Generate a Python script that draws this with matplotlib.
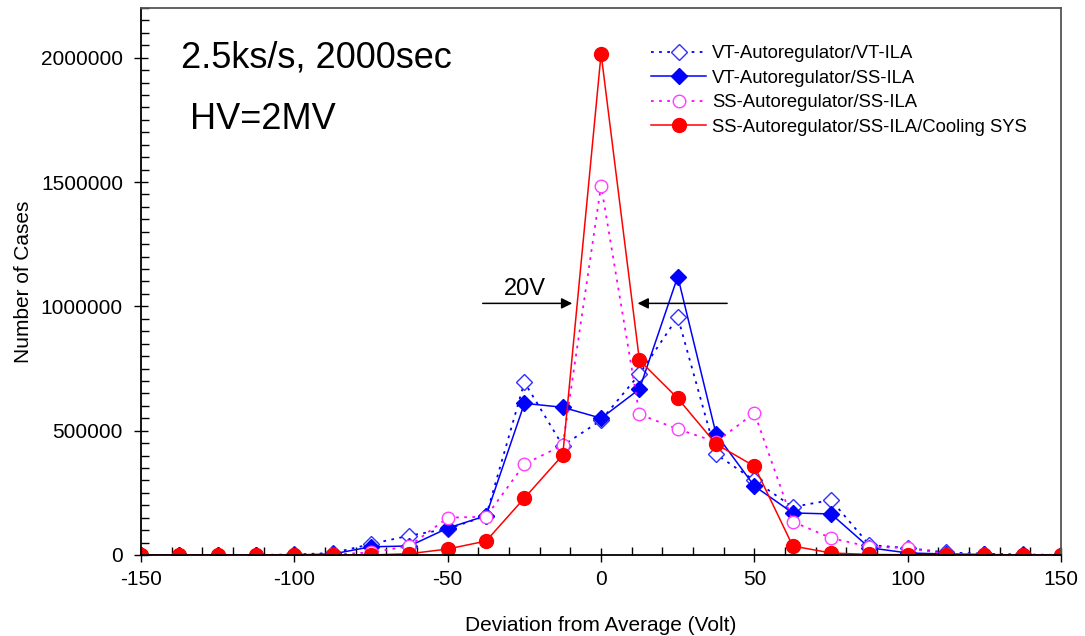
import numpy as np
import matplotlib.pyplot as plt
from matplotlib.ticker import MultipleLocator, FuncFormatter

plt.rcParams['font.family'] = ['Liberation Sans', 'DejaVu Sans']
plt.rcParams['axes.unicode_minus'] = False

# Deviation from average, 12.5 V bins
x = np.arange(-150, 150.1, 12.5)

# Number of cases
vt_vt = [0, 0, 0, 0, 2000, 8000, 44000, 78000, 105000, 157000, 695000, 440000, 542000,
         727000, 957000, 405000, 300000, 193000, 221000, 40000, 28000, 10000, 5000, 2000, 0]
vt_ss = [0, 0, 0, 0, 0, 4000, 33000, 36000, 108000, 158000, 610000, 594000, 550000,
         667000, 1120000, 486000, 277000, 169000, 165000, 29000, 8000, 4000, 2000, 0, 0]
ss_ss = [0, 0, 0, 0, 0, 2000, 10000, 36000, 150000, 154000, 365000, 442000, 1486000,
         566000, 506000, 455000, 571000, 134000, 68000, 33000, 28000, 5000, 2000, 0, 0]
ss_cool = [0, 0, 0, 0, 0, 0, 0, 5000, 24000, 56000, 229000, 402000, 2016000,
           783000, 630000, 446000, 357000, 36000, 8000, 2000, 1000, 0, 0, 0, 0]

labels = ['VT-Autoregulator/VT-ILA', 'VT-Autoregulator/SS-ILA',
          'SS-Autoregulator/SS-ILA', 'SS-Autoregulator/SS-ILA/Cooling SYS']

fig = plt.figure(figsize=(10.85, 6.36), dpi=100)
ax = fig.add_axes([0.13, 0.1274, 0.848, 0.8600])

ax.plot(x, vt_vt, color='#0000ff', ls=(0, (1.5, 3)), lw=1.3, marker='D', ms=8,
        mfc='white', mec='#3030ff', mew=1.0, label=labels[0])
ax.plot(x, vt_ss, color='#0000ff', ls='-', lw=1.1, marker='D', ms=8,
        mfc='#0000ff', mec='#0000ff', label=labels[1])
ax.plot(x, ss_ss, color='#ff00ff', ls=(0, (1.5, 3)), lw=1.3, marker='o', ms=9,
        mfc='white', mec='#ff40ff', mew=1.0, label=labels[2])
ax.plot(x, ss_cool, color='#ff0000', ls='-', lw=1.1, marker='o', ms=10,
        mfc='#ff0000', mec='#ff0000', label=labels[3])

ax.set_xlim(-150, 150)
ax.set_ylim(0, 2200000)
ax.xaxis.set_major_locator(MultipleLocator(50))
ax.xaxis.set_minor_locator(MultipleLocator(10))
ax.yaxis.set_major_locator(MultipleLocator(500000))
ax.yaxis.set_minor_locator(MultipleLocator(50000))
ax.yaxis.set_major_formatter(FuncFormatter(lambda v, p: '%d' % v))
ax.tick_params(which='major', direction='inout', length=10, width=1, labelsize=15)
ax.tick_params(which='minor', direction='in', length=6, width=1)
ax.tick_params(axis='y', which='major', pad=8)
ax.tick_params(axis='x', which='major', pad=6)
for s in ax.spines.values():
    s.set_color('#555555')
    s.set_linewidth(1.3)
ax.spines['left'].set_color('black')
ax.spines['bottom'].set_color('black')

ax.set_xlabel('Deviation from Average (Volt)', fontsize=15, labelpad=19)
ax.set_ylabel('Number of Cases', fontsize=15, labelpad=6)

ax.text(-137, 2000000, '2.5ks/s, 2000sec', fontsize=26, va='center', ha='left')
ax.text(-134, 1750000, 'HV=2MV', fontsize=26, va='center', ha='left')
ax.text(-25, 1070000, '20V', fontsize=17, ha='center', va='center')
arrow = dict(arrowstyle='-|>', color='black', lw=1.1, mutation_scale=16)
ax.annotate('', xy=(-8.5, 1012000), xytext=(-39.5, 1012000), arrowprops=arrow)
ax.annotate('', xy=(11, 1012000), xytext=(42, 1012000), arrowprops=arrow)

ax.legend(loc='upper left', bbox_to_anchor=(0.546, 0.945), frameon=False, fontsize=13.3,
          handlelength=3.0, handletextpad=0.3, labelspacing=0.4, borderaxespad=0)

fig.savefig('out.png', dpi=100)
